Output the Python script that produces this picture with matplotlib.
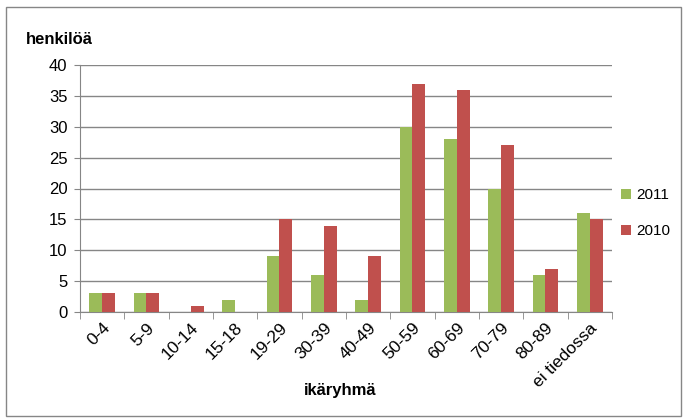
import numpy as np
import matplotlib.pyplot as plt
from matplotlib.patches import Rectangle

plt.rcParams['font.family'] = ['Liberation Sans Narrow', 'Liberation Sans', 'DejaVu Sans']

ryhmat = ['0-4', '5-9', '10-14', '15-18', '19-29', '30-39', '40-49',
          '50-59', '60-69', '70-79', '80-89', 'ei tiedossa']
v2011 = [3, 3, 0, 2, 9, 6, 2, 30, 28, 20, 6, 16]
v2010 = [3, 3, 1, 0, 15, 14, 9, 37, 36, 27, 7, 15]

fig = plt.figure(figsize=(6.86, 4.18), dpi=100)
ax = fig.add_axes([80 / 686, 1 - 312 / 418, 532 / 686, 247 / 418])

x = np.arange(len(ryhmat))
w = 0.29
ax.bar(x - w / 2, v2011, w, color='#9BBB59', label='2011', zorder=3)
ax.bar(x + w / 2, v2010, w, color='#C0504D', label='2010', zorder=3)

ax.set_xlim(-0.5, len(ryhmat) - 0.5)
ax.set_ylim(0, 40)
ax.set_yticks(range(0, 41, 5))
ax.tick_params(axis='y', labelsize=12, length=4, color='#868686', pad=5)
ax.yaxis.grid(True, color='#868686', linewidth=1, zorder=0)

ax.set_xticks(x)
ax.set_xticklabels(ryhmat, rotation=45, ha='right', rotation_mode='anchor', fontsize=12.5)
ax.tick_params(axis='x', length=0, pad=6)
ax.set_xticks(np.arange(-0.5, len(ryhmat)), minor=True)
ax.tick_params(axis='x', which='minor', length=5, color='#868686')

for s in ['top', 'right']:
    ax.spines[s].set_visible(False)
ax.spines['left'].set_color('#868686')
ax.spines['bottom'].set_color('#868686')

fig.text(26 / 686, 1 - 40 / 418, 'henkilöä', fontsize=12, fontweight='bold', va='center')
fig.text(340 / 686, 1 - 391 / 418, 'ikäryhmä', fontsize=12, fontweight='bold',
         va='center', ha='center')

ax.legend(loc='center left', bbox_to_anchor=(1.005, 0.40), frameon=False,
          borderaxespad=0, fontsize=11, handlelength=0.65, handleheight=0.65,
          handletextpad=0.35, labelspacing=1.45)

fig.patches.append(Rectangle((6 / 686, 2 / 418), 675 / 686, 409 / 418,
                             transform=fig.transFigure, fill=False,
                             edgecolor='#868686', linewidth=1))

fig.savefig('out.png', dpi=100)
